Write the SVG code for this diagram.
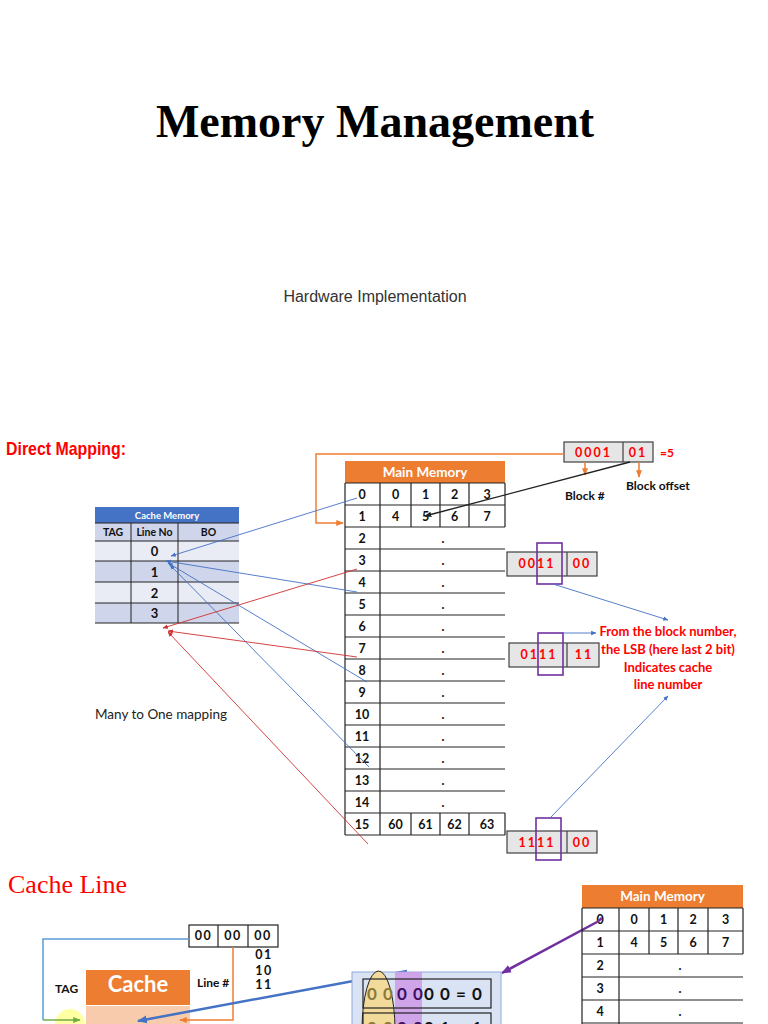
<svg xmlns="http://www.w3.org/2000/svg" width="768" height="1024" viewBox="0 0 768 1024">
<style>
.t{font-family:Lato,"Open Sans",sans-serif;font-weight:bold;fill:#111}
.c{text-anchor:middle}
.red{fill:#FF0000}
.grid{stroke:#222;stroke-width:1.2;fill:none}
.bin{fill:#E7E6E6;stroke:#404040;stroke-width:1.2}
.pur{fill:none;stroke:#7030A0;stroke-width:1.6}
.bl{stroke:#4472C4;stroke-width:0.9;fill:none}
.rd{stroke:#D03030;stroke-width:0.9;fill:none}
.or{stroke:#ED7D31;stroke-width:1.5;fill:none}
</style>
<defs>
<marker id="ab" viewBox="0 0 10 10" refX="9" refY="5" markerWidth="6" markerHeight="6" orient="auto"><path d="M0,1 L10,5 L0,9 z" fill="#4472C4"/></marker>
<marker id="ar" viewBox="0 0 10 10" refX="9" refY="5" markerWidth="6" markerHeight="6" orient="auto"><path d="M0,1 L10,5 L0,9 z" fill="#D03030"/></marker>
<marker id="ao" viewBox="0 0 10 10" refX="9" refY="5" markerWidth="5" markerHeight="5" orient="auto"><path d="M0,1 L10,5 L0,9 z" fill="#ED7D31"/></marker>
<marker id="ak" viewBox="0 0 10 10" refX="9" refY="5" markerWidth="5" markerHeight="5" orient="auto"><path d="M0,1 L10,5 L0,9 z" fill="#222"/></marker>
<marker id="ap" viewBox="0 0 10 10" refX="9" refY="5" markerWidth="4" markerHeight="4" orient="auto"><path d="M0,1 L10,5 L0,9 z" fill="#7030A0"/></marker>
<marker id="abt" viewBox="0 0 10 10" refX="9" refY="5" markerWidth="4" markerHeight="4" orient="auto"><path d="M0,1 L10,5 L0,9 z" fill="#4472C4"/></marker>
<marker id="ag" viewBox="0 0 10 10" refX="9" refY="5" markerWidth="5" markerHeight="5" orient="auto"><path d="M0,1 L10,5 L0,9 z" fill="#70AD47"/></marker>
</defs>
<rect width="768" height="1024" fill="#fff"/>

<g id="title">
<text x="375" y="137" text-anchor="middle" font-family="'Liberation Serif',serif" font-weight="bold" font-size="46" fill="#000">Memory Management</text>
<text x="375" y="302" text-anchor="middle" font-family="'Liberation Sans',sans-serif" font-size="16" fill="#333">Hardware Implementation</text>
<text x="6" y="455" font-family="'Liberation Sans',sans-serif" font-weight="bold" font-size="19" fill="#FF0000" textLength="120" lengthAdjust="spacingAndGlyphs">Direct Mapping:</text>
</g>

<g id="cache-memory">
<rect x="95" y="507" width="144" height="16" fill="#4472C4"/>
<text x="167" y="518.5" class="c" font-family="Lato,sans-serif" font-weight="bold" font-size="9.5" fill="#fff">Cache Memory</text>
<rect x="95" y="523" width="144" height="18" fill="#CFD5EA"/>
<rect x="95" y="541" width="144" height="20" fill="#E9EBF5"/>
<rect x="95" y="561" width="144" height="21" fill="#CFD5EA"/>
<rect x="95" y="582" width="144" height="21" fill="#E9EBF5"/>
<rect x="95" y="603" width="144" height="20" fill="#CFD5EA"/>
<g stroke="#222" stroke-width="1"><line x1="95" y1="541" x2="239" y2="541"/><line x1="95" y1="561" x2="239" y2="561"/><line x1="95" y1="582" x2="239" y2="582"/><line x1="95" y1="603" x2="239" y2="603"/><line x1="95" y1="623" x2="239" y2="623"/><line x1="131" y1="523" x2="131" y2="623"/><line x1="178" y1="523" x2="178" y2="623"/><line x1="95" y1="523" x2="239" y2="523"/></g>
<g class="t c" font-size="10.5"><text x="113" y="535.5">TAG</text><text x="154.5" y="535.5">Line No</text><text x="208.5" y="535.5">BO</text></g>
<g class="t c" font-size="13"><text x="154.5" y="556">0</text><text x="154.5" y="576.5">1</text><text x="154.5" y="597.5">2</text><text x="154.5" y="617.5">3</text></g>
</g>

<g id="main-memory">
<rect x="345" y="461" width="160" height="22" fill="#ED7D31"/>
<text x="425" y="476.5" class="c" font-family="Lato,sans-serif" font-weight="bold" font-size="13.5" fill="#fff">Main Memory</text>
<g class="grid">
<line x1="345" y1="483" x2="345" y2="835"/>
<line x1="380" y1="483" x2="380" y2="835"/>
<line x1="505" y1="483" x2="505" y2="527"/>
<line x1="505" y1="813" x2="505" y2="835"/>
<line x1="411" y1="483" x2="411" y2="527"/><line x1="440" y1="483" x2="440" y2="527"/><line x1="469" y1="483" x2="469" y2="527"/>
<line x1="411" y1="813" x2="411" y2="835"/><line x1="440" y1="813" x2="440" y2="835"/><line x1="469" y1="813" x2="469" y2="835"/>
<line x1="345" y1="483" x2="505" y2="483"/><line x1="345" y1="505" x2="505" y2="505"/><line x1="345" y1="527" x2="505" y2="527"/>
<line x1="345" y1="549" x2="505" y2="549"/><line x1="345" y1="571" x2="505" y2="571"/><line x1="345" y1="593" x2="505" y2="593"/>
<line x1="345" y1="615" x2="505" y2="615"/><line x1="345" y1="637" x2="505" y2="637"/><line x1="345" y1="659" x2="505" y2="659"/>
<line x1="345" y1="681" x2="505" y2="681"/><line x1="345" y1="703" x2="505" y2="703"/><line x1="345" y1="725" x2="505" y2="725"/>
<line x1="345" y1="747" x2="505" y2="747"/><line x1="345" y1="769" x2="505" y2="769"/><line x1="345" y1="791" x2="505" y2="791"/>
<line x1="345" y1="813" x2="505" y2="813"/><line x1="345" y1="835" x2="505" y2="835"/>
</g>
<g class="t c" font-size="12.5">
<text x="362" y="498.5">0</text><text x="362" y="520.5">1</text><text x="362" y="542.5">2</text><text x="362" y="564.5">3</text>
<text x="362" y="586.5">4</text><text x="362" y="608.5">5</text><text x="362" y="630.5">6</text><text x="362" y="652.5">7</text>
<text x="362" y="674.5">8</text><text x="362" y="696.5">9</text><text x="362" y="718.5">10</text><text x="362" y="740.5">11</text>
<text x="362" y="762.5">12</text><text x="362" y="784.5">13</text><text x="362" y="806.5">14</text><text x="362" y="828.5">15</text>
<text x="395.5" y="498.5">0</text><text x="425.5" y="498.5">1</text><text x="454.5" y="498.5">2</text><text x="487" y="498.5">3</text>
<text x="395.5" y="520.5">4</text><text x="425.5" y="520.5">5</text><text x="454.5" y="520.5">6</text><text x="487" y="520.5">7</text>
<text x="395.5" y="828.5">60</text><text x="425.5" y="828.5">61</text><text x="454.5" y="828.5">62</text><text x="487" y="828.5">63</text>
<text x="443" y="542.5">.</text><text x="443" y="564.5">.</text><text x="443" y="586.5">.</text><text x="443" y="608.5">.</text>
<text x="443" y="630.5">.</text><text x="443" y="652.5">.</text><text x="443" y="674.5">.</text><text x="443" y="696.5">.</text>
<text x="443" y="718.5">.</text><text x="443" y="740.5">.</text><text x="443" y="762.5">.</text><text x="443" y="784.5">.</text>
<text x="443" y="806.5">.</text>
</g>
</g>

<g id="address-5">
<rect x="564" y="442" width="89" height="20" class="bin"/>
<line x1="623" y1="442" x2="623" y2="462" stroke="#404040" stroke-width="1.2"/>
<text x="593.5" y="456.5" class="t c red" font-size="12.5" letter-spacing="2">0001</text>
<text x="638" y="456.5" class="t c red" font-size="12.5" letter-spacing="2">01</text>
<text x="660" y="457" font-family="Lato,sans-serif" font-weight="bold" font-size="12" fill="#FF0000">=5</text>
<text x="565" y="500" class="t" font-size="12">Block #</text>
<text x="626" y="490" class="t" font-size="12">Block offset</text>
</g>

<g id="bin-0011">
<rect x="507" y="552" width="90" height="24" class="bin"/>
<line x1="567" y1="552" x2="567" y2="576" stroke="#404040" stroke-width="1.2"/>
<text x="537" y="568" class="t c red" font-size="12.5" letter-spacing="2">0011</text>
<text x="582" y="568" class="t c red" font-size="12.5" letter-spacing="2">00</text>
<rect x="537" y="543" width="25" height="41" class="pur"/>
</g>
<g id="bin-0111">
<rect x="509" y="643" width="90" height="24" class="bin"/>
<line x1="567" y1="643" x2="567" y2="667" stroke="#404040" stroke-width="1.2"/>
<text x="539" y="659" class="t c red" font-size="12.5" letter-spacing="2">0111</text>
<text x="584" y="659" class="t c red" font-size="12.5" letter-spacing="2">11</text>
<rect x="538" y="633" width="25" height="42" class="pur"/>
</g>
<g id="bin-1111">
<rect x="507" y="831" width="90" height="22" class="bin"/>
<line x1="567" y1="831" x2="567" y2="853" stroke="#404040" stroke-width="1.2"/>
<text x="537" y="846.5" class="t c red" font-size="12.5" letter-spacing="2">1111</text>
<text x="582" y="846.5" class="t c red" font-size="12.5" letter-spacing="2">00</text>
<rect x="536" y="818" width="25" height="42" class="pur"/>
</g>

<g id="note">
<g class="t c red" font-size="13">
<text x="668" y="636">From the block number,</text>
<text x="668" y="654">the LSB (here last 2 bit)</text>
<text x="668" y="671.5">Indicates cache</text>
<text x="668" y="689">line number</text>
</g>
<text x="95" y="719" font-family="Lato,sans-serif" font-size="13.5" fill="#222">Many to One  mapping</text>
</g>

<g id="connectors">
<polyline points="564,454 316,454 316,523 343,523" class="or" marker-end="url(#ao)"/>
<line x1="585" y1="462" x2="585" y2="475" class="or" stroke-width="1" marker-end="url(#ao)"/>
<line x1="639" y1="462" x2="639" y2="477" class="or" stroke-width="1" marker-end="url(#ao)"/>
<line x1="630" y1="462" x2="425" y2="516" stroke="#222" stroke-width="1.4" marker-end="url(#ak)"/>
<line x1="553" y1="584" x2="668" y2="620" class="bl" marker-end="url(#ab)"/>
<line x1="563" y1="633" x2="596" y2="633" class="bl" marker-end="url(#ab)"/>
<line x1="550" y1="818" x2="668" y2="696" class="bl" marker-end="url(#ab)"/>
<line x1="357" y1="498" x2="171" y2="556" class="bl" marker-end="url(#ab)"/>
<line x1="357" y1="592" x2="166" y2="561" class="bl" marker-end="url(#ab)"/>
<line x1="367" y1="682" x2="168" y2="563" class="bl" marker-end="url(#ab)"/>
<line x1="369" y1="767" x2="170" y2="565" class="bl" marker-end="url(#ab)"/>
<line x1="357" y1="569" x2="163" y2="628" class="rd" marker-end="url(#ar)"/>
<line x1="357" y1="657" x2="168" y2="631" class="rd" marker-end="url(#ar)"/>
<line x1="368" y1="844" x2="168" y2="632" class="rd" marker-end="url(#ar)"/>
</g>

<g id="cache-line">
<text x="8" y="893" font-family="'Liberation Serif',serif" font-size="26" fill="#FF0000">Cache Line</text>
<rect x="189" y="925" width="89" height="22" fill="#fff" stroke="#222" stroke-width="1.2"/>
<line x1="218" y1="925" x2="218" y2="947" stroke="#222" stroke-width="1.2"/>
<line x1="248" y1="925" x2="248" y2="947" stroke="#222" stroke-width="1.2"/>
<g class="t c" font-size="12.5" letter-spacing="1.5">
<text x="203.5" y="940">00</text><text x="233" y="940">00</text><text x="263" y="940">00</text>
<text x="264" y="959">01</text><text x="264" y="975">10</text><text x="264" y="989">11</text>
</g>
<text x="55" y="993" class="t" font-size="12">TAG</text>
<text x="197" y="987" class="t" font-size="12">Line #</text>
<rect x="86" y="970" width="104" height="35" fill="#ED7D31"/>
<text x="138" y="992" class="c" font-family="Lato,sans-serif" font-weight="bold" font-size="22" fill="#fff">Cache</text>
<rect x="86" y="1006" width="104" height="20" fill="#F8CBAD"/>
<circle cx="70" cy="1024" r="15" fill="#FFFF66" opacity="0.6"/>
</g>

<g id="bottom-connectors">
<polyline points="189,939 43,939 43,1020" fill="none" stroke="#5B9BD5" stroke-width="1.5"/>
<line x1="43" y1="1020" x2="80" y2="1020" stroke="#70AD47" stroke-width="1.5" marker-end="url(#ag)"/>
<polyline points="233,947 233,1020 180,1020" class="or" marker-end="url(#ao)"/>
<line x1="407" y1="971" x2="138" y2="1021" stroke="#4472C4" stroke-width="2.5" marker-end="url(#abt)"/>
<line x1="597" y1="922" x2="502" y2="973" stroke="#7030A0" stroke-width="2.5" marker-end="url(#ap)"/>
</g>

<g id="address-block">
<rect x="352" y="972" width="149" height="60" fill="#DAE3F3" stroke="#8FAADC" stroke-width="1"/>
<rect x="395" y="972" width="27" height="60" fill="#CC99E6" opacity="0.85"/>
<ellipse cx="378.5" cy="1030" rx="16.5" ry="59" fill="#F2DA9B" stroke="#222" stroke-width="1"/>
<rect x="363" y="979" width="128" height="29" fill="none" stroke="#222" stroke-width="1.2"/>
<rect x="363" y="1013" width="128" height="29" fill="none" stroke="#222" stroke-width="1.2"/>
<g font-family="Lato,sans-serif" font-weight="bold" font-size="17" letter-spacing="1">
<text x="367" y="1000" fill="#8B7A3A">0 0</text>
<text x="397" y="1000" fill="#3F1060">0 0</text>
<text x="424" y="1000" fill="#111">0 0 = 0</text>
<text x="367" y="1034" fill="#8B7A3A">0 0</text>
<text x="397" y="1034" fill="#3F1060">0 0</text>
<text x="424" y="1034" fill="#111">0 1 = 1</text>
</g>
</g>

<g id="main-memory-2">
<rect x="582" y="885" width="161" height="23" fill="#ED7D31"/>
<text x="662.5" y="901" class="c" font-family="Lato,sans-serif" font-weight="bold" font-size="13.5" fill="#fff">Main Memory</text>
<g class="grid">
<line x1="582" y1="908" x2="582" y2="1030"/>
<line x1="619" y1="908" x2="619" y2="1030"/>
<line x1="743" y1="908" x2="743" y2="954"/>
<line x1="649" y1="908" x2="649" y2="954"/><line x1="678" y1="908" x2="678" y2="954"/><line x1="708" y1="908" x2="708" y2="954"/>
<line x1="582" y1="908" x2="743" y2="908"/><line x1="582" y1="931" x2="743" y2="931"/><line x1="582" y1="954" x2="743" y2="954"/>
<line x1="582" y1="977" x2="743" y2="977"/><line x1="582" y1="1000" x2="743" y2="1000"/><line x1="582" y1="1023" x2="743" y2="1023"/>
</g>
<g class="t c" font-size="12.5">
<text x="600" y="924">0</text><text x="600" y="947">1</text><text x="600" y="970">2</text><text x="600" y="993">3</text><text x="600" y="1016">4</text>
<text x="634" y="924">0</text><text x="663.5" y="924">1</text><text x="693" y="924">2</text><text x="725.5" y="924">3</text>
<text x="634" y="947">4</text><text x="663.5" y="947">5</text><text x="693" y="947">6</text><text x="725.5" y="947">7</text>
<text x="680" y="970">.</text><text x="680" y="993">.</text><text x="680" y="1016">.</text>
</g>
<line x1="597" y1="922" x2="602" y2="918" stroke="#7030A0" stroke-width="2.5"/>
</g>
</svg>
